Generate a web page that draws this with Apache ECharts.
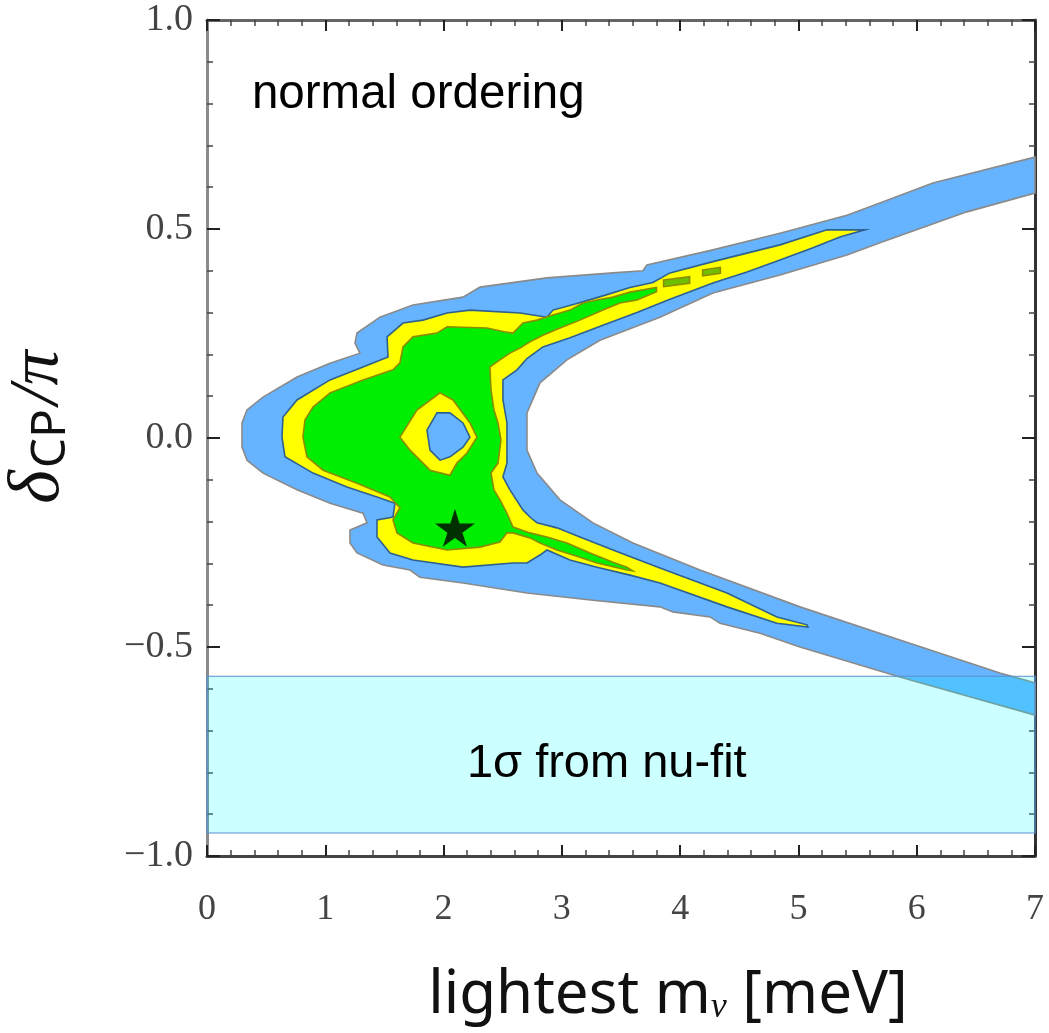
<!DOCTYPE html>
<html>
<head>
<meta charset="utf-8">
<script src="https://cdn.jsdelivr.net/npm/echarts@6/dist/echarts.min.js"></script>
<style>
html,body{margin:0;padding:0;background:#fff}
#main{width:1049px;height:1033px}
</style>
</head>
<body>
<div id="main"></div>
<script>
// contour outlines, as [m_lightest (meV), delta_CP/pi]
// 3 sigma (blue): outer edge right->left->right, then the inner edge of the wedge
var blueRegion = [
  [7.0,0.672],[6.137,0.610],[5.689,0.562],[5.410,0.533],[4.844,0.490],[4.277,0.450],[3.719,0.414],[3.685,0.400],
  [3.432,0.395],[2.874,0.383],[2.308,0.361],[2.164,0.337],[1.741,0.318],[1.462,0.289],[1.268,0.251],[1.251,0.227],
  [1.293,0.203],[1.040,0.179],[0.761,0.146],[0.474,0.098],[0.338,0.067],[0.296,0.036],[0.296,-0.022],[0.338,-0.053],
  [0.474,-0.084],[0.761,-0.124],[1.040,-0.156],[1.319,-0.180],[1.353,-0.203],[1.209,-0.220],[1.209,-0.251],[1.268,-0.275],
  [1.488,-0.304],[1.716,-0.316],[1.800,-0.333],[2.164,-0.347],[2.705,-0.371],[3.263,-0.388],[3.829,-0.404],[3.939,-0.416],
  [4.252,-0.428],[4.337,-0.443],[4.675,-0.467],[5.013,-0.500],[5.858,-0.572],[7.0,-0.663],
  [7.0,-0.586],[6.703,-0.562],[5.858,-0.483],[5.013,-0.404],[4.168,-0.316],[3.601,-0.251],[3.263,-0.203],[2.984,-0.148],
  [2.790,-0.084],[2.705,-0.029],[2.705,0.060],[2.815,0.132],[3.043,0.187],[3.322,0.234],[3.829,0.289],[4.277,0.347],
  [4.844,0.390],[5.410,0.438],[5.689,0.467],[6.424,0.541],[7.0,0.586]
];
// 2 sigma (yellow)
var yellowRegion = [
  [5.562,0.498],[5.241,0.498],[4.844,0.462],[4.277,0.422],[3.914,0.395],[3.770,0.372],[3.576,0.360],[3.347,0.340],
  [3.128,0.322],[2.925,0.306],[2.874,0.289],[2.646,0.299],[2.223,0.306],[2.029,0.299],[1.826,0.282],[1.657,0.275],
  [1.522,0.242],[1.530,0.194],[1.319,0.170],[1.040,0.139],[0.761,0.091],[0.642,0.050],[0.634,0.002],[0.659,-0.045],
  [0.896,-0.084],[1.183,-0.117],[1.437,-0.141],[1.589,-0.156],[1.572,-0.189],[1.437,-0.196],[1.437,-0.237],[1.547,-0.275],
  [1.741,-0.292],[2.164,-0.309],[2.587,-0.299],[2.705,-0.299],[2.815,-0.280],[2.874,-0.268],[3.068,-0.292],[3.297,-0.309],
  [3.576,-0.328],[3.829,-0.347],[4.396,-0.404],[4.818,-0.443],[5.080,-0.452],
  [5.072,-0.447],[4.818,-0.428],[4.396,-0.371],[3.829,-0.311],[3.719,-0.299],[3.432,-0.268],[3.153,-0.237],[2.959,-0.215],
  [2.790,-0.203],[2.730,-0.189],[2.671,-0.172],[2.561,-0.124],[2.502,-0.093],[2.536,-0.060],[2.536,-0.005],[2.536,0.036],
  [2.502,0.091],[2.502,0.139],[2.621,0.163],[2.705,0.190],[2.840,0.218],[3.069,0.240],[3.347,0.270],[3.635,0.300],
  [3.914,0.332],[4.277,0.371],[4.565,0.397],[4.844,0.426],[5.123,0.455],[5.351,0.481]
];
// 1 sigma (green): central blob with the two thin streaks
var greenRegion = [
  [2.587,0.251],[2.671,0.275],[2.790,0.282],[2.925,0.294],[3.069,0.306],[3.178,0.323],[3.297,0.330],[3.432,0.337],
  [3.576,0.349],[3.800,0.360],
  [3.800,0.350],[3.635,0.330],[3.491,0.323],[3.347,0.306],[3.153,0.282],[2.984,0.263],[2.840,0.246],[2.730,0.230],
  [2.646,0.215],[2.561,0.203],[2.477,0.187],[2.392,0.170],
  [2.401,0.115],[2.426,0.067],[2.460,0.036],[2.485,-0.005],[2.460,-0.060],[2.401,-0.084],[2.426,-0.124],[2.477,-0.148],
  [2.536,-0.180],[2.587,-0.213],[2.730,-0.227],[2.874,-0.237],[3.043,-0.251],[3.238,-0.275],[3.432,-0.297],[3.550,-0.309],
  [3.600,-0.318],
  [3.550,-0.316],[3.297,-0.299],[3.094,-0.280],[2.959,-0.268],[2.815,-0.251],[2.730,-0.239],[2.587,-0.227],[2.536,-0.227],
  [2.477,-0.249],[2.308,-0.261],[2.029,-0.268],[1.741,-0.251],[1.606,-0.227],[1.572,-0.196],[1.631,-0.167],[1.547,-0.141],
  [1.268,-0.108],[0.981,-0.077],[0.845,-0.045],[0.811,0.002],[0.828,0.043],[0.896,0.074],[1.040,0.108],[1.319,0.139],
  [1.572,0.163],[1.631,0.180],[1.657,0.218],[1.741,0.242],[1.944,0.251],[2.029,0.266],[2.368,0.263],[2.510,0.254]
];
var greenDashes = [
  [[3.86,0.378],[4.08,0.386],[4.08,0.370],[3.86,0.362]],
  [[4.19,0.402],[4.34,0.408],[4.34,0.394],[4.19,0.388]]
];
// yellow ring and blue hole inside the green blob
var ringOuter = [[1.970,0.108],[1.775,0.067],[1.631,0.002],[1.716,-0.029],[1.885,-0.077],[2.054,-0.089],[2.113,-0.060],
  [2.198,-0.036],[2.282,0.002],[2.223,0.036],[2.080,0.091]];
var ringHole = [[1.944,0.060],[1.860,0.019],[1.885,-0.029],[1.970,-0.053],[2.054,-0.045],[2.164,-0.022],[2.223,0.002],
  [2.164,0.036],[2.054,0.060]];

var bestFit = [2.096, -0.215];
var nuFitBand = [-0.945, -0.57];   // delta range of the 1 sigma band
var nuFitLabel = [3.38, -0.78];
var orderingLabel = [0.38, 0.82];

var myChart = echarts.init(document.getElementById('main'));

function polygonSeries(name, pts, fill, stroke, z){
  return {
    name: name,
    type: 'custom',
    silent: true,
    z: z,
    data: [[0, 0]],
    renderItem: function(params, api){
      return {
        type: 'polygon',
        shape: { points: pts.map(function(p){ return api.coord(p); }) },
        style: { fill: fill, stroke: stroke, lineWidth: 1.6 }
      };
    }
  };
}

var series = [
  polygonSeries('3sigma', blueRegion, '#66b3ff', '#8a8a8a', 2),
  polygonSeries('2sigma', yellowRegion, '#ffff00', '#2e6190', 3),
  polygonSeries('1sigma', greenRegion, '#00ee00', '#8c8c00', 4),
  polygonSeries('dash1', greenDashes[0], '#6fbf00', '#8c8c00', 4),
  polygonSeries('dash2', greenDashes[1], '#6fbf00', '#8c8c00', 4),
  polygonSeries('ring', ringOuter, '#ffff00', '#8c8c00', 5),
  polygonSeries('hole', ringHole, '#66b3ff', '#2e6190', 6),
  {
    name: 'nufit',
    type: 'custom',
    silent: true,
    z: 8,
    data: [[0, 0]],
    renderItem: function(params, api){
      var a = api.coord([0, nuFitBand[1]]);
      var b = api.coord([7, nuFitBand[0]]);
      var c = api.coord(nuFitLabel);
      var t = api.coord(orderingLabel);
      return {
        type: 'group',
        children: [
          { type: 'rect', shape: { x: a[0], y: a[1], width: b[0] - a[0], height: b[1] - a[1] },
            style: { fill: 'rgba(0,255,255,0.2)', stroke: '#5b8fd0', lineWidth: 1.2 } },
          { type: 'text', x: c[0], y: c[1],
            style: { text: '1σ from nu-fit', fontSize: 47, fontFamily: 'Liberation Sans, Arial, sans-serif',
                     fill: '#000', align: 'center', verticalAlign: 'middle' } },
          { type: 'text', x: t[0], y: t[1],
            style: { text: 'normal ordering', fontSize: 47.5, fontFamily: 'Liberation Sans, Arial, sans-serif',
                     fill: '#000', align: 'left', verticalAlign: 'middle' } }
        ]
      };
    }
  },
  {
    name: 'best fit',
    type: 'scatter',
    z: 9,
    silent: true,
    symbol: 'path://M50,0 L61,35 L98,35 L68,57 L79,91 L50,70 L21,91 L32,57 L2,35 L39,35 Z',
    symbolSize: [40, 38],
    itemStyle: { color: '#000' },
    data: [bestFit]
  }
];

function xAx(pos, showLabel){
  return {
    type: 'value', min: 0, max: 7, interval: 1, position: pos,
    axisLine: { show: true, onZero: false, lineStyle: { color: pos == 'bottom' ? '#444' : '#666', width: 3 } },
    axisTick: { show: true, inside: true, length: 11, lineStyle: { color: '#222', width: 2 } },
    minorTick: { show: true, splitNumber: 5, length: 6, lineStyle: { color: '#444', width: 1.5 } },
    splitLine: { show: false },
    axisLabel: { show: showLabel, margin: 36, fontSize: 36, fontFamily: 'Liberation Serif, serif', color: '#444' },
    name: showLabel ? '{a|lightest m}{s|ν}{a| [meV]}' : '',
    nameLocation: 'middle',
    nameGap: 110,
    nameTextStyle: {
      padding: [0, 0, 0, 94],
      rich: {
        a: { fontSize: 60, fontFamily: 'Noto Sans, sans-serif', color: '#111' },
        s: { fontSize: 36, fontFamily: 'Liberation Serif, serif', fontStyle: 'italic', color: '#111', verticalAlign: 'bottom', padding: [20, 0, 0, 0] }
      }
    }
  };
}

function yAx(pos, showLabel){
  return {
    type: 'value', min: -1, max: 1, interval: 0.5, position: pos,
    axisLine: { show: true, onZero: false, lineStyle: { color: pos == 'left' ? '#8a8a8a' : '#333', width: 3 } },
    axisTick: { show: true, inside: true, length: 13, lineStyle: { color: '#222', width: 2 } },
    minorTick: { show: true, splitNumber: 5, length: 6, lineStyle: { color: '#444', width: 1.5 } },
    splitLine: { show: false },
    axisLabel: {
      show: showLabel, margin: 14, fontSize: 38, fontFamily: 'Liberation Serif, serif', color: '#444',
      formatter: function(v){ return (v < 0 ? '\u2212' : '') + Math.abs(v).toFixed(1); }
    },
    name: showLabel ? '{d|δ}{s|CP}{p|/π}' : '',
    nameLocation: 'middle',
    nameRotate: 90,
    nameGap: 132,
    nameTextStyle: {
      padding: [0, 0, 0, 22],
      rich: {
        d: { fontSize: 72, fontFamily: 'Liberation Serif, serif', fontStyle: 'italic', color: '#111' },
        s: { fontSize: 48, fontFamily: 'Noto Sans, sans-serif', color: '#111', verticalAlign: 'bottom', padding: [24, 4, 0, 2] },
        p: { fontSize: 70, fontFamily: 'Liberation Serif, serif', fontStyle: 'italic', color: '#111' }
      }
    }
  };
}

var option = {
  animation: false,
  backgroundColor: '#fff',
  grid: { left: 207, right: 14, top: 20, bottom: 177, containLabel: false, outerBoundsMode: 'none' },
  xAxis: [xAx('bottom', true), xAx('top', false)],
  yAxis: [yAx('left', true), yAx('right', false)],
  series: series
};

myChart.setOption(option);
</script>
</body>
</html>
